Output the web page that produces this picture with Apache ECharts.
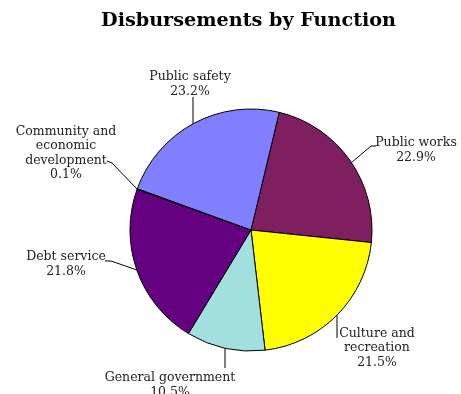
<!DOCTYPE html>
<html><head><meta charset="utf-8">
<script src="https://cdn.jsdelivr.net/npm/echarts@6/dist/echarts.min.js"></script>
<style>html,body{margin:0;padding:0;background:#fff}#c{width:461px;height:394px}</style>
</head><body><div id="c"></div>
<script>
const categories = ["Public works", "Culture and\nrecreation", "General government", "Debt service", "Community and\neconomic\ndevelopment", "Public safety"];
const values = [22.9, 21.5, 10.5, 21.8, 0.1, 23.2];
const colors = ["#801F5F", "#FFFF00", "#A2E0E0", "#650080", "#C06020", "#8080FF"];
// label anchor positions (text centers) and leader line bends/ends
const labelPos = [
  {x: 416, y: 150, line: [[351, 163], [371, 146], [376, 146]]},
  {x: 377, y: 348, line: [[337, 315], [337, 327], [337, 338]]},
  {x: 170, y: 385, line: [[225, 348], [225, 358], [225, 368]]},
  {x: 66, y: 264, line: [[137, 270], [111, 261], [105, 261]]},
  {x: 66, y: 153, line: [[137, 189], [112, 163], [107, 161]]},
  {x: 190, y: 84, line: [[193, 124], [193, 110], [193, 97]]}
];
const chart = echarts.init(document.getElementById('c'), null, {renderer: 'canvas'});
chart.setOption({
  animation: false,
  title: {
    text: 'Disbursements by Function', left: 96, top: 7,
    textStyle: {fontFamily: 'DejaVu Serif', fontWeight: 'bold', fontSize: 19.2, color: '#000'}
  },
  series: [{
    type: 'pie',
    center: [251, 230],
    radius: 121,
    startAngle: 76.5,
    clockwise: true,
    avoidLabelOverlap: false,
    minAngle: 0,
    itemStyle: {borderColor: '#000', borderWidth: 1},
    label: {
      show: true, position: 'outside',
      fontFamily: 'DejaVu Serif', fontSize: 12.5, color: '#222', lineHeight: 14.5,
      formatter: p => p.name + '\n' + p.value.toFixed(1) + '%'
    },
    labelLine: {show: true, length: 15, length2: 8, lineStyle: {color: '#000', width: 1}},
    labelLayout: p => {
      const lp = labelPos[p.dataIndex];
      return {x: lp.x, y: lp.y, align: 'center', verticalAlign: 'middle', labelLinePoints: lp.line};
    },
    emphasis: {disabled: true},
    data: categories.map((c, i) => ({name: c, value: values[i], itemStyle: {color: colors[i]}}))
  }]
});
</script></body></html>
